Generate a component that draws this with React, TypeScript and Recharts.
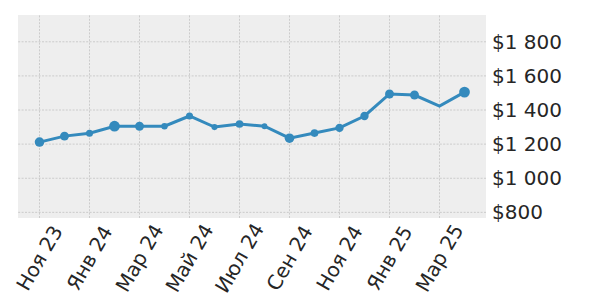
import { LineChart, Line, XAxis, YAxis, CartesianGrid, ReferenceLine } from 'recharts'

const months = [
  'Ноя 23', 'Дек 23', 'Янв 24', 'Фев 24', 'Мар 24', 'Апр 24',
  'Май 24', 'Июн 24', 'Июл 24', 'Авг 24', 'Сен 24', 'Окт 24',
  'Ноя 24', 'Дек 24', 'Янв 25', 'Фев 25', 'Мар 25', 'Апр 25',
]
const price = [
  1212, 1247, 1264, 1305, 1305, 1305, 1365, 1300, 1318,
  1305, 1235, 1265, 1295, 1365, 1494, 1488, 1423, 1505,
]
// relative weight per point, drives marker size
const weight = [7, 6, 3, 9, 6, 2, 3, 1.5, 4, 1, 7, 4, 5, 5, 6, 6, -5, 9]
const xTicks = [0, 2, 4, 6, 8, 10, 12, 14, 16]
const yTicks = [800, 1000, 1200, 1400, 1600, 1800]

const data = months.map((m, i) => ({ i, month: m, price: price[i], w: weight[i] }))

const fmtUsd = (v: number) => '$' + v.toLocaleString('en-US').replace(',', '\u00a0')
const font = '"DejaVu Sans", sans-serif'
const blue = '#348ABD'
const gridStyle = { stroke: '#bdbdbd', strokeWidth: 0.7, strokeDasharray: '2 1.4' }

function XTick(props: any) {
  const { x, y, payload } = props
  const cy = y + 38
  return (
    <text
      x={x}
      y={cy}
      textAnchor="middle"
      dominantBaseline="central"
      transform={`rotate(-60, ${x}, ${cy})`}
      fontSize={20}
      fontFamily={font}
      fill="#262626"
    >
      {months[payload.value]}
    </text>
  )
}

function Dot(props: any) {
  const { cx, cy, index, payload } = props
  const r = Math.max(0, 2.6 + payload.w * 0.31)
  return <circle key={index} cx={cx} cy={cy} r={r} fill={blue} />
}

export default function App() {
  return (
    <div style={{ position: 'absolute', left: 0, top: 0 }}>
      <LineChart width={600} height={300} data={data} margin={{ top: 15, right: 4, left: 18, bottom: 2 }}>
        <CartesianGrid fill="#eeeeee" stroke="none" horizontal={false} vertical={false} />
        {xTicks.map((t) => (
          <ReferenceLine key={'x' + t} x={t} {...gridStyle} />
        ))}
        {yTicks.map((t) => (
          <ReferenceLine key={'y' + t} y={t} {...gridStyle} />
        ))}
        <XAxis
          dataKey="i"
          type="number"
          domain={[-0.86, 17.86]}
          ticks={xTicks}
          interval={0}
          axisLine={false}
          tickLine={false}
          tickSize={0}
          height={80}
          tick={<XTick />}
          allowDataOverflow
        />
        <YAxis
          orientation="right"
          domain={[767, 1957]}
          ticks={yTicks}
          interval={0}
          axisLine={false}
          tickLine={false}
          tickSize={0}
          tickMargin={6}
          width={110}
          tickFormatter={fmtUsd}
          tick={{ fontSize: 20, fontFamily: font, fill: '#262626', textAnchor: 'start' }}
          allowDataOverflow
        />
        <Line
          type="linear"
          dataKey="price"
          stroke={blue}
          strokeWidth={3}
          dot={Dot}
          activeDot={false}
          isAnimationActive={false}
        />
      </LineChart>
    </div>
  )
}
